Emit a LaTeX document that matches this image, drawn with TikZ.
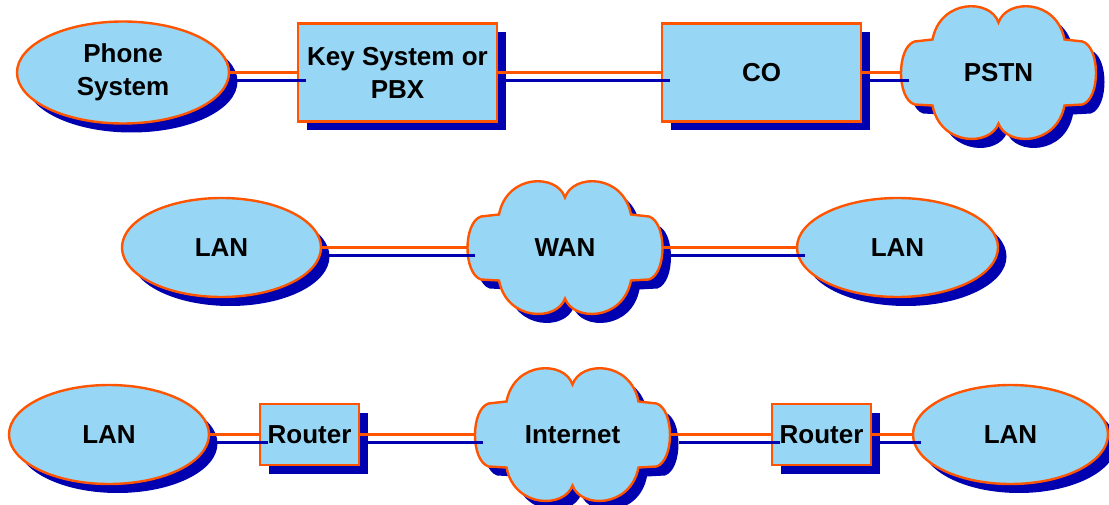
\documentclass[tikz,border=0pt]{standalone}
\usepackage{fontspec}
\setmainfont{Liberation Sans}
\usetikzlibrary{shapes.geometric,shadows}
\definecolor{fillblue}{RGB}{151,215,245}
\definecolor{edgeorange}{RGB}{255,85,0}
\definecolor{shadowblue}{RGB}{0,0,176}
\newcommand\cloudoutline{(0,-50) .. controls (-8,-74) and (-58,-74) .. (-66,-33)
  -- (-84,-31) .. controls (-102,-25) and (-102,26) .. (-84,32)
  -- (-66,33) .. controls (-58,74) and (-8,74) .. (0,51)
  .. controls (8,74) and (58,74) .. (66,33)
  -- (84,32) .. controls (102,26) and (102,-25) .. (84,-31)
  -- (66,-33) .. controls (58,-74) and (8,-74) .. (0,-50) -- cycle}
\newcommand\drawcloud[1]{%
  \fill[shadowblue,shift={(#1)},xshift=8.5pt,yshift=-9pt] \cloudoutline;
  \filldraw[fill=fillblue,draw=edgeorange,line width=2.4pt,shift={(#1)}] \cloudoutline;}
\begin{document}
\begin{tikzpicture}[x=1pt,y=-1pt,
  every node/.style={font=\fontsize{26}{33}\selectfont\bfseries, align=center, inner sep=0pt, outer sep=0pt},
  castshadow/.style={drop shadow={shadow xshift=8.5pt, shadow yshift=-9pt, fill=shadowblue, opacity=1}},
  ellnode/.style={ellipse, draw=edgeorange, fill=fillblue, line width=2.4pt, castshadow},
  boxnode/.style={rectangle, draw=edgeorange, fill=fillblue, line width=2.6pt, castshadow},
  cloudnode/.style={rectangle, minimum width=196pt, minimum height=130pt},
  link/.style={draw=edgeorange, line width=3.4pt},
  linkshadow/.style={draw=shadowblue, line width=3pt}]
\useasboundingbox (0,0) rectangle (1109,505);
% clouds
\drawcloud{998.5,72.5}
\drawcloud{565,247.5}
\drawcloud{572.5,434.5}
% row 1
\node[ellnode, minimum width=212pt, minimum height=102pt] (phone) at (123,72.5) {Phone\\System};
\node[boxnode, minimum width=199pt, minimum height=98pt] (key) at (397.5,72.5) {Key System or\\PBX};
\node[boxnode, minimum width=199pt, minimum height=98pt] (co) at (761.5,72.5) {CO};
\node[cloudnode] (pstn) at (998.5,72.5) {PSTN};
% row 2
\node[ellnode, minimum width=199pt, minimum height=99pt] (lana) at (221.5,247.5) {LAN};
\node[cloudnode] (wan) at (565,247.5) {WAN};
\node[ellnode, minimum width=201pt, minimum height=99pt] (lanb) at (897.5,247.5) {LAN};
% row 3
\node[ellnode, minimum width=200pt, minimum height=99pt] (lanc) at (109,434.5) {LAN};
\node[boxnode, minimum width=99pt, minimum height=61pt] (ra) at (309.5,434.5) {Router};
\node[cloudnode] (inet) at (572.5,434.5) {Internet};
\node[boxnode, minimum width=99pt, minimum height=61pt] (rb) at (821.5,434.5) {Router};
\node[ellnode, minimum width=195pt, minimum height=99pt] (land) at (1010.5,434.5) {LAN};
% connectors
\foreach \a/\b in {phone/key, key/co, co/pstn, lana/wan, wan/lanb, lanc/ra, ra/inet, inet/rb, rb/land}{
  \draw[link] (\a.east) -- (\b.west);
  \draw[linkshadow] ([shift={(8,8)}]\a.east) -- ([shift={(8,8)}]\b.west);
}
\end{tikzpicture}
\end{document}
